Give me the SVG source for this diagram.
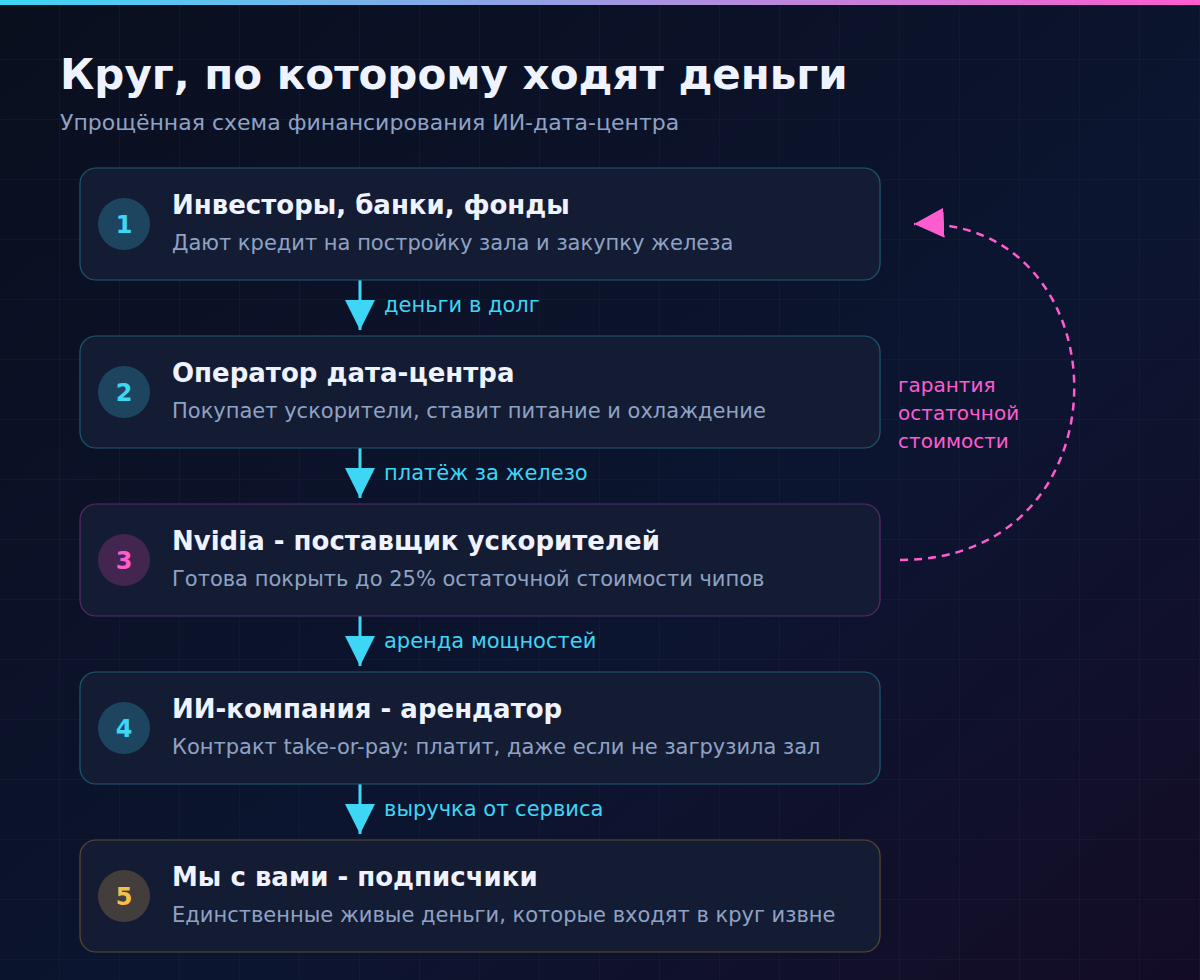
<svg xmlns="http://www.w3.org/2000/svg" width="1200" height="980" viewBox="0 0 1200 980">
<defs>
<linearGradient id="bg" x1="0" y1="0" x2="1" y2="1"><stop offset="0" stop-color="#0a0f1e"/><stop offset="0.6" stop-color="#0c1530"/><stop offset="1" stop-color="#140c26"/></linearGradient>
<linearGradient id="top" x1="0" x2="1"><stop offset="0" stop-color="#3dd6f5"/><stop offset="1" stop-color="#ff5cd0"/></linearGradient>
<pattern id="grid" width="60" height="60" patternUnits="userSpaceOnUse"><path d="M60 0V60M0 60H60" fill="none" stroke="#1c2740" stroke-width="1" opacity="0.6"/></pattern>
<marker id="ac" viewBox="0 0 10 10" refX="10" refY="5" markerWidth="30" markerHeight="30" markerUnits="userSpaceOnUse" orient="auto"><path d="M0 0L10 5L0 10Z" fill="#3dd6f5"/></marker>
<marker id="ap" viewBox="0 0 10 10" refX="10" refY="5" markerWidth="30" markerHeight="30" markerUnits="userSpaceOnUse" orient="auto"><path d="M0 0L10 5L0 10Z" fill="#ff5cd0"/></marker>
</defs>
<style>
text{font-family:"DejaVu Sans","Noto Sans",sans-serif}
.box{fill:#141c33;stroke-width:1.2}
.t{fill:#eef3ff;font-size:26px;font-weight:bold}
.s{fill:#8fa2c4;font-size:21px}
.n{font-size:24px;font-weight:bold;text-anchor:middle}
.lab{fill:#3dd6f5;font-size:21px}
.con{stroke:#3dd6f5;stroke-width:3;fill:none}
.g{fill:#ff5cd0;font-size:20px}
</style>
<rect width="1200" height="980" fill="url(#bg)"/>
<rect width="1200" height="980" fill="url(#grid)"/>
<rect width="1200" height="5" fill="url(#top)"/>
<text x="60" y="89" font-size="42" font-weight="bold" fill="#eef3ff">Круг, по которому ходят деньги</text>
<text x="60" y="130" font-size="22" fill="#8fa2c4">Упрощённая схема финансирования ИИ-дата-центра</text>

<g id="connectors">
<path class="con" d="M360 280V330" marker-end="url(#ac)"/>
<path class="con" d="M360 448V498" marker-end="url(#ac)"/>
<path class="con" d="M360 616V666" marker-end="url(#ac)"/>
<path class="con" d="M360 784V834" marker-end="url(#ac)"/>
<text class="lab" x="384" y="312">деньги в долг</text>
<text class="lab" x="384" y="480">платёж за железо</text>
<text class="lab" x="384" y="648">аренда мощностей</text>
<text class="lab" x="384" y="816">выручка от сервиса</text>
<path d="M900 560 C1135 560 1125 215 914 224" fill="none" stroke="#ff5cd0" stroke-width="2.5" stroke-dasharray="8 6" marker-end="url(#ap)"/>
<text class="g" x="898" y="392">гарантия</text>
<text class="g" x="898" y="420">остаточной</text>
<text class="g" x="898" y="448">стоимости</text>
</g>

<g id="n1"><rect class="box" x="80" y="168" width="800" height="112" rx="16" stroke="#1f5a72"/><circle cx="124" cy="224" r="26" fill="#1d4560"/><text class="n" x="124" y="233" fill="#3dd6f5">1</text><text class="t" x="172" y="214">Инвесторы, банки, фонды</text><text class="s" x="172" y="250">Дают кредит на постройку зала и закупку железа</text></g>
<g id="n2"><rect class="box" x="80" y="336" width="800" height="112" rx="16" stroke="#1f5a72"/><circle cx="124" cy="392" r="26" fill="#1d4560"/><text class="n" x="124" y="401" fill="#3dd6f5">2</text><text class="t" x="172" y="382">Оператор дата-центра</text><text class="s" x="172" y="418">Покупает ускорители, ставит питание и охлаждение</text></g>
<g id="n3"><rect class="box" x="80" y="504" width="800" height="112" rx="16" stroke="#5a2a6a"/><circle cx="124" cy="560" r="26" fill="#43264f"/><text class="n" x="124" y="569" fill="#ff5cd0">3</text><text class="t" x="172" y="550">Nvidia - поставщик ускорителей</text><text class="s" x="172" y="586">Готова покрыть до 25% остаточной стоимости чипов</text></g>
<g id="n4"><rect class="box" x="80" y="672" width="800" height="112" rx="16" stroke="#1f5a72"/><circle cx="124" cy="728" r="26" fill="#1d4560"/><text class="n" x="124" y="737" fill="#3dd6f5">4</text><text class="t" x="172" y="718">ИИ-компания - арендатор</text><text class="s" x="172" y="754">Контракт take-or-pay: платит, даже если не загрузила зал</text></g>
<g id="n5"><rect class="box" x="80" y="840" width="800" height="112" rx="16" stroke="#5a4a34"/><circle cx="124" cy="896" r="26" fill="#433d3c"/><text class="n" x="124" y="905" fill="#f5c04a">5</text><text class="t" x="172" y="886">Мы с вами - подписчики</text><text class="s" x="172" y="922">Единственные живые деньги, которые входят в круг извне</text></g>
</svg>
